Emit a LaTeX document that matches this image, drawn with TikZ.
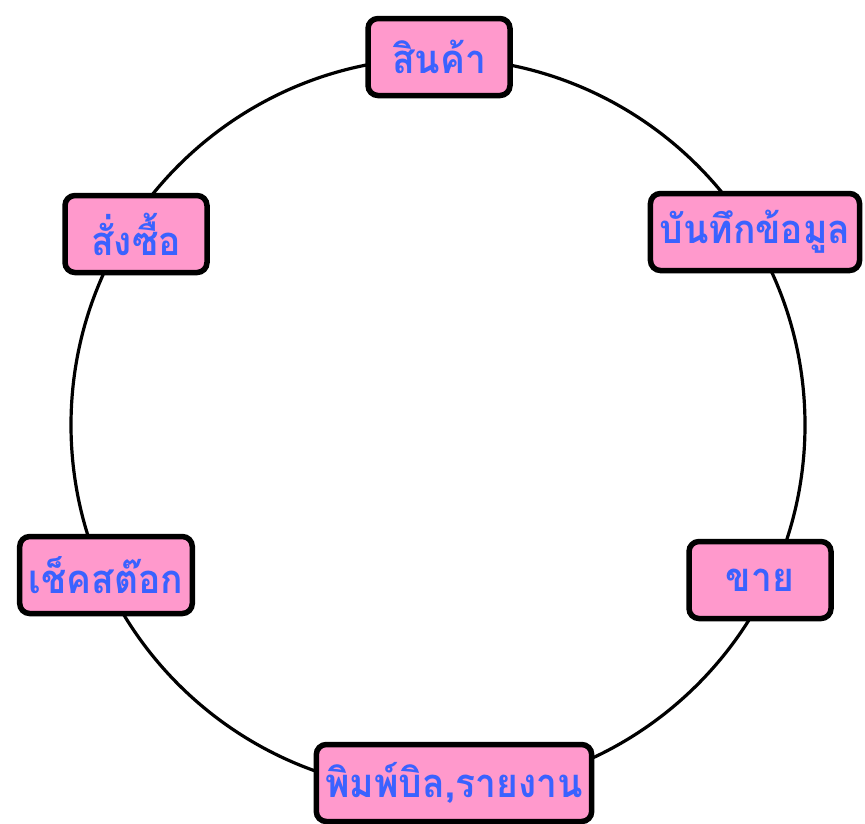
\documentclass[tikz,border=0pt]{standalone}
\usepackage{fontspec}
\newfontfamily\thaifont[Script=Thai,FakeStretch=0.93]{Loma}
\definecolor{boxpink}{HTML}{FF99CC}
\definecolor{txtblue}{HTML}{3A62FF}
\begin{document}
\begin{tikzpicture}[x=1pt,y=-1pt,
  stage/.style={draw=black, line width=5.5pt, fill=boxpink, rounded corners=10pt,
    minimum width=142pt, minimum height=77pt, inner xsep=9pt,
    text=txtblue, font=\thaifont\bfseries\fontsize{40}{44}\selectfont}]
\useasboundingbox (0,0) rectangle (865,823);
\coordinate (c) at (438,425);
\draw[line width=3.2pt] (c) circle[radius=367];
\node[stage] (p) at (439,57) {สินค้า};
\node[stage] (r) at (755,232) {บันทึกข้อมูล};
\node[stage] (s) at (760,580) {ขาย};
\node[stage] (b) at (454,783) {พิมพ์บิล,รายงาน};
\node[stage] (k) at (106,575) {เช็คสต๊อก};
\node[stage] (o) at (136,234) {สั่งซื้อ};
\end{tikzpicture}
\end{document}
